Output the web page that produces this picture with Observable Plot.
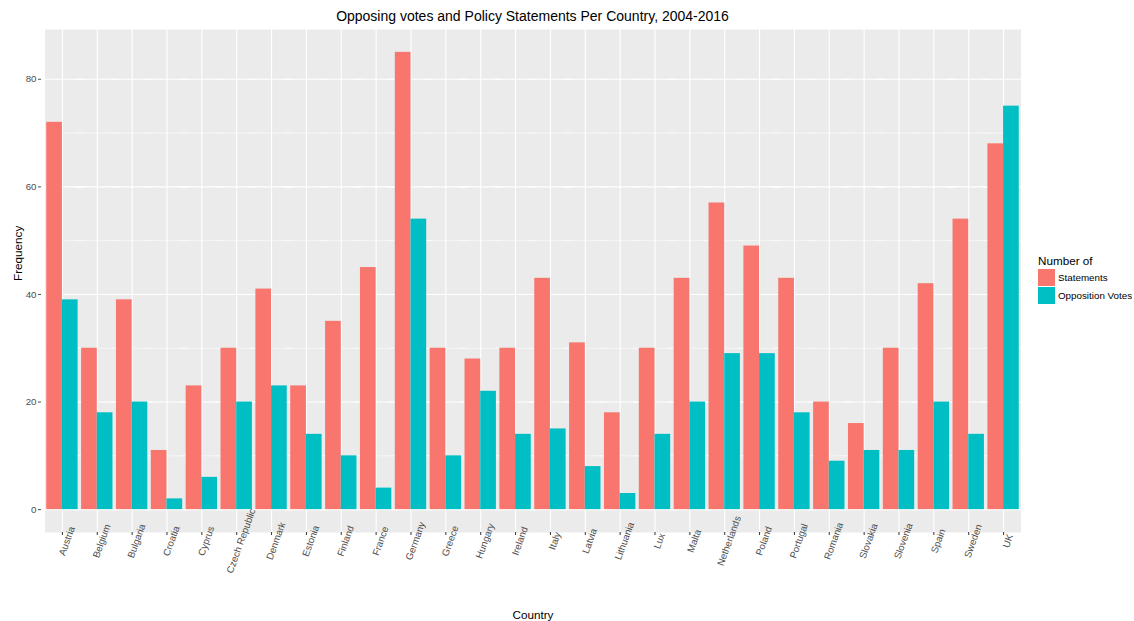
<!DOCTYPE html>
<html><head><meta charset="utf-8">
<script src="https://cdn.jsdelivr.net/npm/d3@7"></script>
<script src="https://cdn.jsdelivr.net/npm/@observablehq/plot@0.6"></script>
<style>
body{margin:0;background:#fff;font-family:"Liberation Sans",Arial,sans-serif;}
#wrap{position:relative;width:1134px;height:621px;overflow:hidden;background:#fff;}
#title{position:absolute;left:0;top:0;width:1065px;text-align:center;font-size:14px;line-height:14px;padding-top:9px;color:#000;}
#chart{position:absolute;left:0;top:29px;}
#legend{position:absolute;left:1038px;top:255px;}
#legend .ltitle{font-size:11.7px;line-height:12px;color:#000;margin-bottom:2px;white-space:nowrap;}
.lg-swatches{font-family:"Liberation Sans",Arial,sans-serif !important;font-size:9.8px !important;margin:0 !important;color:#000;}
.lg-swatch > svg{margin-right:3px !important;}
.lg-swatch{padding-bottom:1px !important;}
</style></head>
<body><div id="wrap">
<div id="title">Opposing votes and Policy Statements Per Country, 2004-2016</div>
<div id="chart"></div>
<div id="legend"><div class="ltitle">Number of</div></div>
</div>
<script>
const countries = ["Austria","Belgium","Bulgaria","Croatia","Cyprus","Czech Republic","Denmark","Estonia","Finland","France","Germany","Greece","Hungary","Ireland","Italy","Latvia","Lithuania","Lux","Malta","Netherlands","Poland","Portugal","Romania","Slovakia","Slovenia","Spain","Sweden","UK"];
const statements = [72,30,39,11,23,30,41,23,35,45,85,30,28,30,43,31,18,30,43,57,49,43,20,16,30,42,54,68];
const opposition = [39,18,20,2,6,20,23,14,10,4,54,10,22,14,15,8,3,14,20,29,29,18,9,11,11,20,14,75];
const seriesNames = ["Statements","Opposition Votes"];
const seriesColors = ["#F8766D","#00BFC4"];
const yTicks = [0,20,40,60,80];
const yMinor = [10,30,50,70];

const rows = countries.flatMap((c,i)=>[
  {country:c, series:seriesNames[0], value:statements[i]},
  {country:c, series:seriesNames[1], value:opposition[i]}
]);

const FONT = '"Liberation Sans", Arial, sans-serif';
const W = 1134, ML = 41, MR = 110;
const outer = 0.1;
const step = (W - ML - MR) / (countries.length + 2 * outer);
const edge = outer * step;  // gap between the panel edge and the first/last facet

const plot = Plot.plot({
  width:W, height:592, marginTop:0, marginBottom:89, marginLeft:ML, marginRight:MR,
  style:{fontFamily:FONT, fontSize:"9.7px", background:"white", overflow:"visible"},
  fx:{domain:countries, paddingInner:0, paddingOuter:outer, round:false, axis:null, label:null},
  x:{domain:seriesNames, paddingInner:0, paddingOuter:0.05/0.45, round:false, axis:null},
  y:{domain:[-4.25,89.25], axis:null},
  color:{domain:seriesNames, range:seriesColors},
  marks:[
    Plot.frame({fill:"#EBEBEB", stroke:null, facet:"super"}),
    Plot.gridY(yMinor,{stroke:"white", strokeOpacity:1, strokeWidth:0.55, insetLeft:-edge-0.5, insetRight:-edge-0.5}),
    Plot.gridY(yTicks,{stroke:"white", strokeOpacity:1, strokeWidth:1.1, insetLeft:-edge-0.5, insetRight:-edge-0.5}),
    Plot.gridFx({stroke:"white", strokeOpacity:1, strokeWidth:1.1}),
    Plot.barY(rows,{fx:"country", x:"series", y:"value", fill:"series"}),
    Plot.axisY(yTicks,{tickSize:3, tickPadding:2, color:"#4D4D4D", fontSize:9.7, label:null, dx:-edge}),
    Plot.axisFx({anchor:"bottom", tickSize:3, tickFormat:()=>"", color:"#333", label:null}),
    Plot.text(countries,{fx:d=>d, frameAnchor:"bottom", text:d=>d, rotate:-70, textAnchor:"middle", lineAnchor:"middle", dx:4.5, dy:8.5, fill:"#4D4D4D", fontSize:9.7}),
    Plot.text(["Country"],{frameAnchor:"bottom", text:d=>d, dy:83, lineAnchor:"middle", fontSize:11.7, fill:"#000", facet:"super"}),
    Plot.text(["Frequency"],{frameAnchor:"left", text:d=>d, dx:-27, rotate:-90, lineAnchor:"middle", fontSize:11.7, fill:"#000", facet:"super"})
  ]
});
document.getElementById("chart").append(plot);

const leg = Plot.legend({color:{domain:seriesNames, range:seriesColors}, legend:"swatches", columns:1, swatchSize:17, className:"lg"});
document.getElementById("legend").append(leg);
</script>
</body></html>
